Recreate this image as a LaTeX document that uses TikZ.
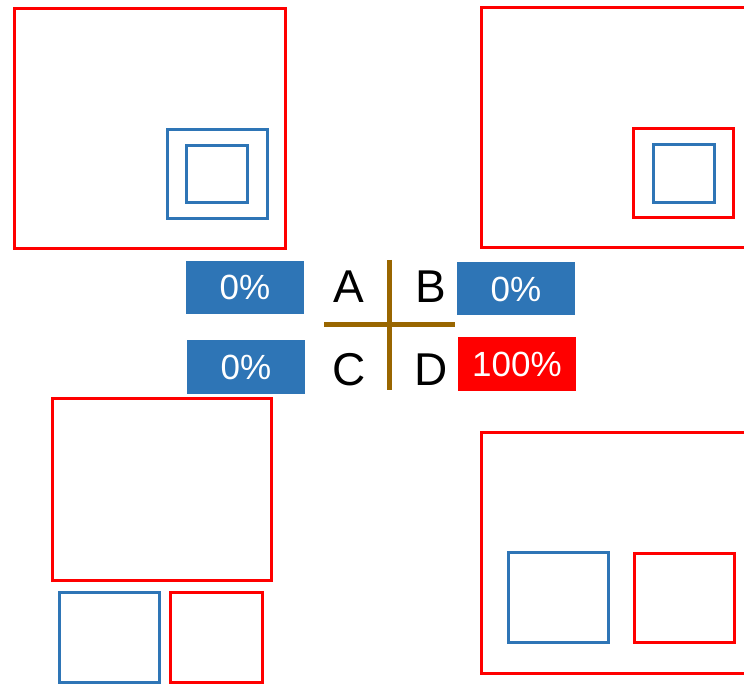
\documentclass[tikz,border=0pt]{standalone}
\usepackage{fontspec}
\setmainfont{Liberation Sans}
\usetikzlibrary{positioning}
\definecolor{frameblue}{RGB}{46,117,182}
\definecolor{framered}{RGB}{255,0,0}
\definecolor{crossbrown}{RGB}{153,102,0}
\tikzset{
  redframe/.style={draw=framered, line width=3pt},
  blueframe/.style={draw=frameblue, line width=3pt},
  pct/.style={inner sep=0pt, minimum width=118pt, minimum height=53pt,
              text=white, font=\fontsize{35}{35}\selectfont},
  letter/.style={inner sep=0pt, font=\fontsize{46}{46}\selectfont}
}
\begin{document}
\begin{tikzpicture}[x=1pt, y=-1pt]
        \useasboundingbox (0,0) rectangle (744,684);
        \clip (0,0) rectangle (744,684);

        % top left
        \draw[redframe]  (14, 9) rectangle (285, 249);
        \draw[blueframe] (167, 130) rectangle (267, 219);
        \draw[blueframe] (186, 146) rectangle (247, 203);

        % top right
        \draw[redframe]  (481, 8) rectangle (760, 248);
        \draw[redframe]  (633, 129) rectangle (733, 218);
        \draw[blueframe] (653, 145) rectangle (714, 203);

        % bottom left
        \draw[redframe]  (52, 398) rectangle (271, 580);
        \draw[blueframe] (59, 592) rectangle (159, 682);
        \draw[redframe]  (170, 592) rectangle (262, 682);

        % bottom right
        \draw[redframe]  (481, 432) rectangle (760, 673);
        \draw[blueframe] (508, 552) rectangle (608, 642);
        \draw[redframe]  (634, 553) rectangle (734, 642);

        % cross
        \coordinate (top) at (389, 260);
        \coordinate (bot) at (389, 390);
        \coordinate (lft) at (324, 325);
        \coordinate (rgt) at (455, 325);
        \draw[crossbrown, line width=5pt] (top) -- (bot) (lft) -- (rgt);

        \node[letter] (A) at (349, 287) {A};
        \node[letter] (B) at (431, 287) {B};
        \node[letter] (C) at (349, 370) {C};
        \node[letter] (D) at (431, 370) {D};

        \node[pct, fill=frameblue] (pA) at (245, 287.5) {0\%};
        \node[pct, fill=frameblue] (pB) at (516, 289) {0\%};
        \node[pct, fill=frameblue] (pC) at (246, 367) {0\%};
        \node[pct, fill=framered]  (pD) at (517, 364) {100\%};
\end{tikzpicture}
\end{document}
